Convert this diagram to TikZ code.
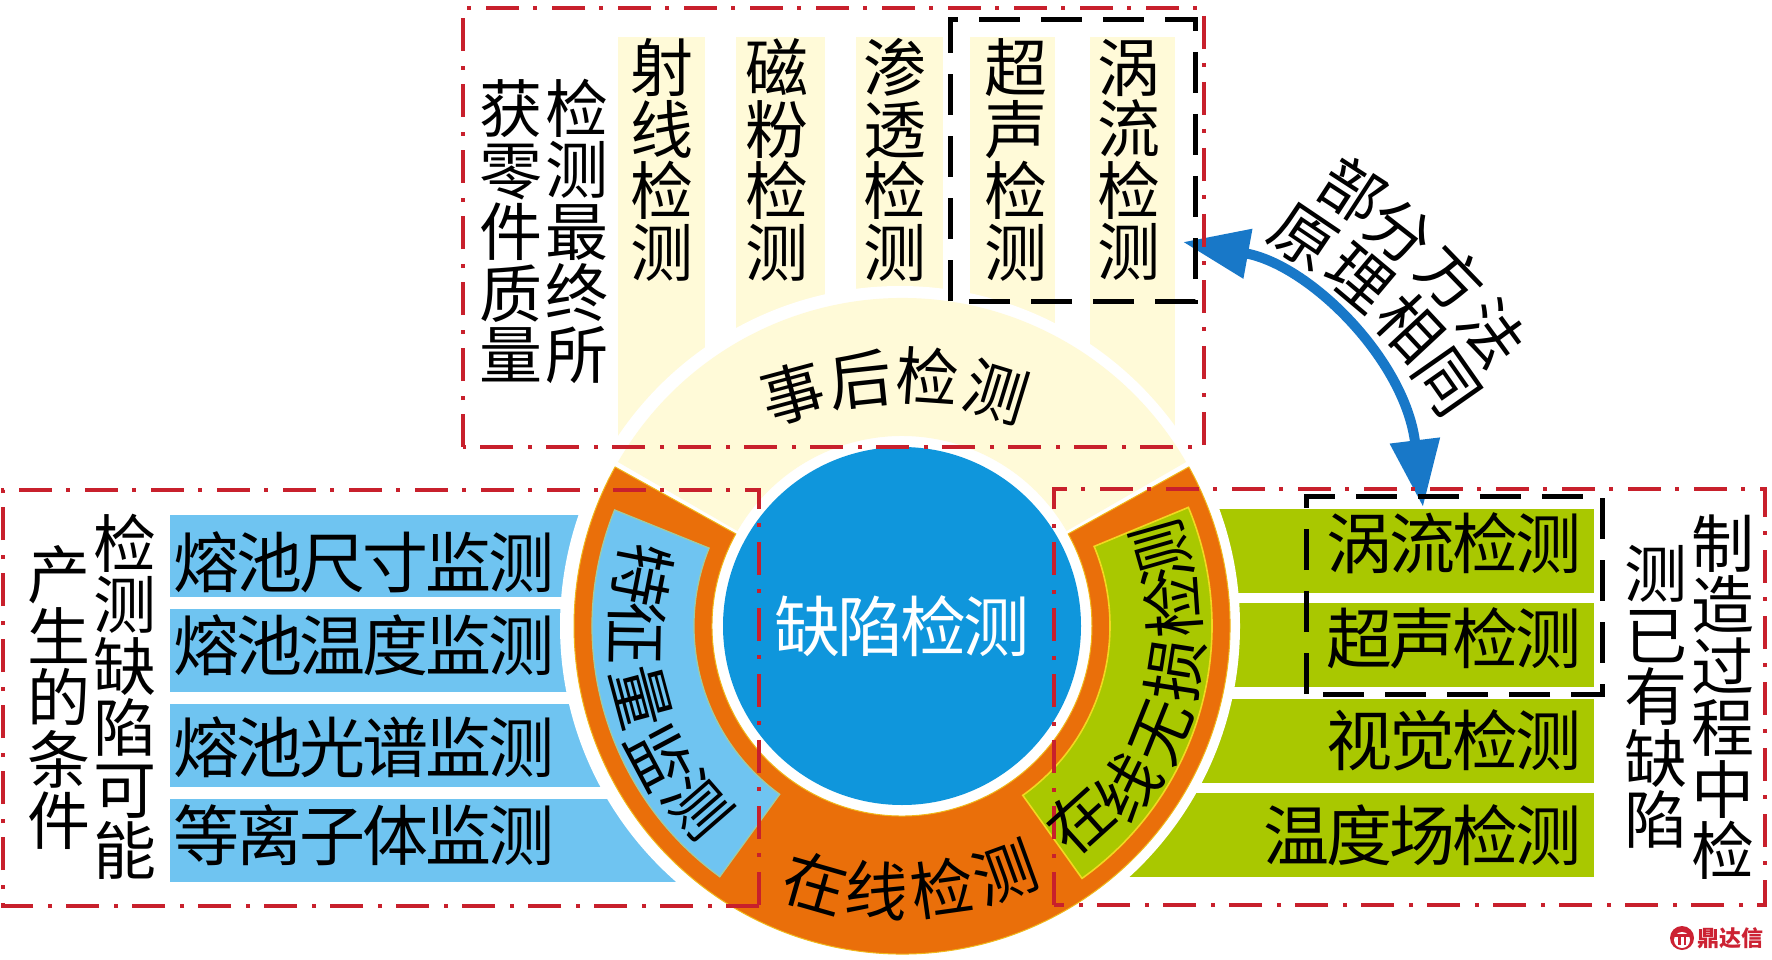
\documentclass[tikz,border=0pt]{standalone}
\usepackage{fontspec}
\usetikzlibrary{arrows.meta,calc}
\newfontfamily\cjk{Noto Sans CJK SC}
\newfontfamily\cjkt[LetterSpace=-4.5]{Noto Sans CJK SC}
\definecolor{paleY}{HTML}{FFFAD8}
\definecolor{ltblue}{HTML}{6FC4F1}
\definecolor{hubblue}{HTML}{0F96DC}
\definecolor{leaf}{HTML}{A9C800}
\definecolor{ringor}{HTML}{EA6F0A}
\definecolor{edgeY}{HTML}{F2D820}
\definecolor{framered}{HTML}{C8202C}
\definecolor{arrowblue}{HTML}{1878C8}
\definecolor{logored}{HTML}{CC2233}
\newcommand\ringsector[5][]{\path[#1] (#4:#2) arc[start angle=#4,end angle=#5,radius=#2] -- (#5:#3) arc[start angle=#5,end angle=#4,radius=#3] -- cycle;}
\tikzset{
  glyph/.style={inner sep=0pt,font=\cjk\fontsize{63}{63}\selectfont},
  stack/.style={inner sep=0pt,align=center,font=\cjk\fontsize{63}{61.5}\selectfont},
  barlabel/.style={inner sep=0pt,font=\cjkt\fontsize{66}{66}\selectfont},
  reddash/.style={draw=framered,line width=4.4pt,dash pattern=on 33pt off 14pt on 4pt off 15pt},
  blackdash/.style={draw=black,line width=5pt,dash pattern=on 41pt off 21pt},
  doublearrow/.style={draw=arrowblue,line width=10pt,{Triangle[length=66pt,width=48pt]}-{Triangle[length=67pt,width=48pt]}}
}
\begin{document}
\begin{tikzpicture}[x=1pt,y=-1pt]
\useasboundingbox (0,0) rectangle (1772,960);
\fill[white] (0,0) rectangle (1772,960);
% pale columns
\foreach \a/\b in {618/705,736/825,856/943,970/1055,1090/1175}
  \fill[paleY] (\a,37) rectangle (\b,447);
% left bars
\foreach \a/\b in {515/597,609/692,704/787,799/882}
  \fill[ltblue] (170,\a) rectangle (800,\b);
% right bars
\foreach \a/\b in {509/593,603/687,699/783,793/877}
  \fill[leaf] (1000,\a) rectangle (1594,\b);
% rings
\fill[white] (900,626) circle[radius=340];
\begin{scope}[shift={(902,626)},y=1pt]
  \ringsector[fill=paleY]{190}{328}{30}{150}
  \ringsector[fill=ringor,draw=edgeY!70!ringor,line width=1pt]{190}{328}{151}{389}
  \ringsector[fill=ltblue,draw=edgeY!40!ltblue,line width=1.2pt]{208}{310}{158}{234}
  \ringsector[fill=leaf,draw=edgeY,line width=1.6pt]{208}{310}{-54.5}{22.5}
\end{scope}
\node[circle,fill=hubblue,minimum size=358pt,inner sep=0pt,text=white,font=\cjkt\fontsize{66}{66}\selectfont] (hub) at (902,626) {缺陷检测};
% double arrow
\coordinate (tipA) at (1183,242);
\coordinate (tipB) at (1423,507);
\draw[doublearrow] (tipA) .. controls (1310,265) and (1405,360) .. (tipB);
% frames
\draw[reddash] (463,447) -- (463,8) -- (1204,8) -- (1204,447) -- cycle;
\draw[reddash] (759,906) -- (3,906) -- (3,490) -- (759,490) -- cycle;
\draw[reddash] (1054,905) -- (1054,489) -- (1765,489) -- (1765,905) -- cycle;
\draw[blackdash] (950,301) -- (950,20) -- (1195,20) -- (1195,301) -- cycle;
\draw[blackdash] (1306,694) -- (1306,496) -- (1602,496) -- (1602,694) -- cycle;
% top text
\node[stack] (t1) at (577,231) {检\\测\\最\\终\\所};
\node[stack] (t2) at (511,231) {获\\零\\件\\质\\量};
\node[stack] (c1) at (662,160) {射\\线\\检\\测};
\node[stack] (c2) at (777,160) {磁\\粉\\检\\测};
\node[stack] (c3) at (895,160) {渗\\透\\检\\测};
\node[stack] (c4) at (1016,160) {超\\声\\检\\测};
\node[stack] (c5) at (1129,160) {涡\\流\\检\\测};
% cap text
\node[glyph,rotate=15] (s1) at (793,393) {事};
\node[glyph,rotate=6] (s2) at (860,380) {后};
\node[glyph,rotate=-4] (s3) at (928,377) {检};
\node[glyph,rotate=-17] (s4) at (997,392) {测};
% bottom ring text
\node[glyph,rotate=-16] (b1) at (815,883) {在};
\node[glyph,rotate=-5] (b2) at (877,890) {线};
\node[glyph,rotate=8] (b3) at (942,888) {检};
\node[glyph,rotate=20] (b4) at (1005,872) {测};
% left ring text
\node[glyph,rotate=-101] (l1) at (643,575) {特};
\node[glyph,rotate=-91] (l2) at (637,633) {征};
\node[glyph,rotate=-75] (l3) at (642,697) {量};
\node[glyph,rotate=-62] (l4) at (660,757) {监};
\node[glyph,rotate=-49] (l5) at (698,805) {测};
% right ring text
\node[glyph,rotate=42] (r1) at (1080,820) {在};
\node[glyph,rotate=54] (r2) at (1128,787) {线};
\node[glyph,rotate=68] (r3) at (1162,732) {无};
\node[glyph,rotate=81] (r4) at (1175,670) {损};
\node[glyph,rotate=94] (r5) at (1173,607) {检};
\node[glyph,rotate=106] (r6) at (1162,553) {测};
% left labels
\node[stack] (lt1) at (125,697) {检\\测\\缺\\陷\\可\\能};
\node[stack] (lt2) at (59,698) {产\\生\\的\\条\\件};
\node[barlabel] (lb1) at (364,562) {熔池尺寸监测};
\node[barlabel] (lb2) at (364,645) {熔池温度监测};
\node[barlabel] (lb3) at (364,747) {熔池光谱监测};
\node[barlabel] (lb4) at (364,835) {等离子体监测};
% right labels
\node[barlabel,anchor=east] (rb1) at (1582,543) {涡流检测};
\node[barlabel,anchor=east] (rb2) at (1582,638) {超声检测};
\node[barlabel,anchor=east] (rb3) at (1582,740) {视觉检测};
\node[barlabel,anchor=east] (rb4) at (1582,835) {温度场检测};
\node[stack] (rt1) at (1723,697) {制\\造\\过\\程\\中\\检};
\node[stack] (rt2) at (1656,697) {测\\已\\有\\缺\\陷};
% arrow label
\node[glyph,rotate=-33] (a1) at (1353,190) {部};
\node[glyph,rotate=-38] (a2) at (1400,232) {分};
\node[glyph,rotate=-46] (a3) at (1452,277) {方};
\node[glyph,rotate=-54] (a4) at (1492,333) {法};
\node[glyph,rotate=-34] (a5) at (1303,238) {原};
\node[glyph,rotate=-40] (a6) at (1360,278) {理};
\node[glyph,rotate=-47] (a7) at (1410,327) {相};
\node[glyph,rotate=-55] (a8) at (1447,383) {同};
% logo
\fill[logored] (1682,938) circle[radius=12];
\fill[white] (1682,940) circle[radius=8];
\fill[logored] (1674,934) rectangle (1690,937);
\fill[logored] (1678,937) rectangle (1680.5,945);
\fill[logored] (1683.5,937) rectangle (1686,945);
\node[inner sep=0pt,text=logored,font=\cjk\bfseries\fontsize{22}{22}\selectfont] (logo) at (1730,938) {鼎达信};
\end{tikzpicture}
\end{document}
